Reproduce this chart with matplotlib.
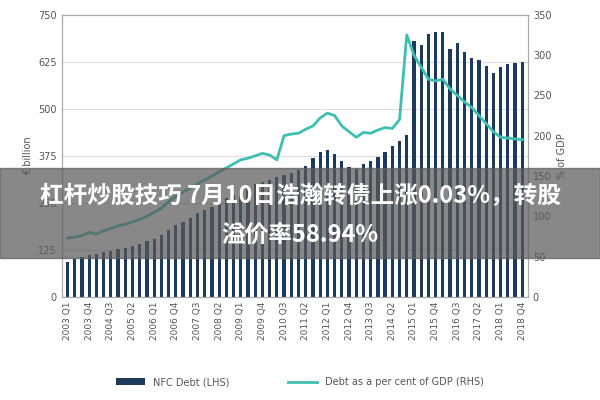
import matplotlib
matplotlib.use("Agg")
import matplotlib.pyplot as plt
from matplotlib import font_manager as fm
import numpy as np

years = list(range(2003, 2019))
quarters = [f"{y} Q{q}" for y in years for q in range(1, 5)]
nfc_debt = [93, 100, 105, 110, 115, 120, 122, 126, 130, 135, 140, 148,
            155, 165, 178, 190, 200, 210, 222, 232, 240, 250, 262, 272,
            280, 290, 300, 305, 310, 318, 325, 330, 338, 348, 370, 385,
            390, 380, 360, 345, 340, 352, 360, 372, 385, 400, 415, 430,
            680, 670, 700, 705, 705, 660, 675, 650, 635, 630, 615, 595,
            612, 618, 622, 625]
gdp_pct = [73, 74, 76, 80, 78, 82, 85, 88, 90, 93, 96, 100,
           105, 110, 118, 125, 130, 135, 140, 145, 150, 155, 160, 165,
           170, 172, 175, 178, 176, 170, 200, 202, 203, 208, 212, 222,
           228, 225, 212, 205, 198, 204, 203, 207, 210, 209, 220, 325,
           300, 285, 270, 268, 270, 258, 250, 242, 235, 225, 215, 205,
           198, 197, 196, 195]
tick_labels = quarters[::3]

files = [f for f in fm.findSystemFonts() if "sans" in f.lower() and "cjk" in f.lower()]
bold = [f for f in files if "bold" in f.lower()]
cjk = (bold or files or [None])[0]
if cjk:
    fp = fm.FontProperties(fname=cjk, size=17, weight="bold")
else:
    fp = fm.FontProperties(family="Noto Sans CJK SC", size=17, weight="bold")

fig = plt.figure(figsize=(6, 4), dpi=100)
ax = fig.add_axes([0.103, 0.258, 0.777, 0.705])
x = np.arange(len(quarters))
ax.bar(x, nfc_debt, width=0.45, color="#1b3a5c", label="NFC Debt (LHS)", zorder=2)
ax.set_ylim(0, 750)
ax.set_yticks([0, 125, 250, 375, 500, 625, 750])
ax.set_xlim(-0.8, len(quarters) - 0.2)
ax.set_xticks(x[::3])
ax.set_xticklabels(tick_labels, rotation=90, fontsize=6.5, color="#555")
ax.tick_params(axis="y", labelsize=7, colors="#555", length=0)
ax.tick_params(axis="x", length=0)
ax.grid(axis="y", color="#dddddd", lw=0.8, zorder=0)
for s in ax.spines.values():
    s.set_color("#aaaaaa")
ax.set_ylabel("€ billion", fontsize=7, color="#555")

ax2 = ax.twinx()
ax2.plot(x, gdp_pct, color="#3fbfb0", lw=2, label="Debt as a per cent of GDP (RHS)")
ax2.set_ylim(0, 350)
ax2.set_yticks([0, 50, 100, 150, 200, 250, 300, 350])
ax2.tick_params(axis="y", labelsize=7, colors="#555", length=0)
ax2.set_ylabel("% of GDP", fontsize=7, color="#555")
for s in ax2.spines.values():
    s.set_color("#aaaaaa")

h1, l1 = ax.get_legend_handles_labels()
h2, l2 = ax2.get_legend_handles_labels()
fig.legend(h1 + h2, l1 + l2, loc="lower center", bbox_to_anchor=(0.5, 0.01), ncol=2,
           frameon=False, fontsize=7, handlelength=3, columnspacing=6, labelcolor="#555")

fig.patches.append(plt.Rectangle((0, 0.355), 1, 0.225, transform=fig.transFigure,
                                 color="#5a5a5a", alpha=0.72, zorder=10))
fig.text(0.5, 0.51, "杠杆炒股技巧 7月10日浩瀚转债上涨0.03%，转股", ha="center", va="center",
         fontproperties=fp, color="white", zorder=11)
fig.text(0.5, 0.41, "溢价率58.94%", ha="center", va="center",
         fontproperties=fp, color="white", zorder=11)

fig.savefig("out.png")
